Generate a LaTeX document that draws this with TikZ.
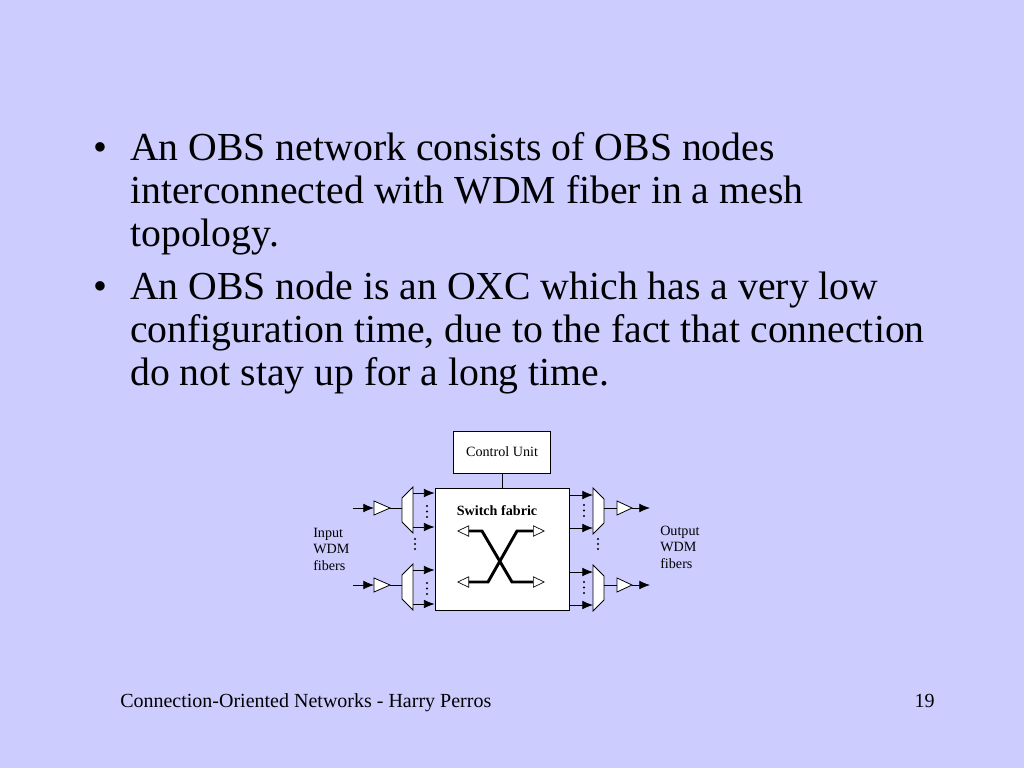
\documentclass[tikz,border=0pt]{standalone}
\usepackage{fontspec}
\setmainfont{Liberation Serif}
\usetikzlibrary{arrows.meta}
\tikzset{>={Latex[length=8pt,width=6.5pt]}}
\definecolor{slidebg}{RGB}{204,204,255}
\newcommand{\bodyfont}{\fontsize{29.8}{32.25}\selectfont}
\newcommand{\smallfont}{\fontsize{10.6}{12.4}\selectfont}
\tikzset{
  box/.style={draw, fill=white, line width=0.6pt, inner sep=0pt},
  dev/.style={draw, fill=white, line width=0.6pt},
  hollow/.tip={Triangle[open, length=9pt, width=8.5pt, line width=0.5pt]},
  xline/.style={line width=2.2pt, {hollow}-{hollow}}
}

\begin{document}
\begin{tikzpicture}[x=0.75pt, y=-0.75pt]
  \fill[slidebg] (0,0) rectangle (1024,768);
  \useasboundingbox (0,0) rectangle (1024,768);

  % bullets
  \node[anchor=base, inner sep=0, font=\bodyfont] (dot1) at (100,160) {•};
  \node[anchor=base west, inner sep=0, align=left, font=\bodyfont] (item1) at (130,246)
    {An OBS network consists of OBS nodes\\interconnected with WDM fiber in a mesh\\topology.};
  \node[anchor=base, inner sep=0, font=\bodyfont] (dot2) at (100,299) {•};
  \node[anchor=base west, inner sep=0, align=left, font=\bodyfont] (item2) at (130,385)
    {An OBS node is an OXC which has a very low\\configuration time, due to the fact that connection\\do not stay up for a long time.};

  % node diagram
  \node[box, minimum width=72.75pt, minimum height=31.5pt, font=\smallfont] (cu) at (502,452) {Control Unit};
  \node[box, minimum width=100.5pt, minimum height=91.5pt] (sf) at (502,549) {};
  \draw[line width=0.6pt] (cu.south) -- (sf.north);
  \node[font=\smallfont\bfseries, inner sep=0] (sflabel) at (497,511) {Switch fabric};
  \draw[xline] (457,531) -- (482,531) -- (512,582) -- (545,582);
  \draw[xline] (545,531) -- (517,531) -- (488,582) -- (457,582);

  \foreach \c in {510,587} {
    % input side
    \coordinate (inA) at (353,\c-2);
    \coordinate (inB) at (374,\c-2);
    \draw[->, line width=0.6pt] (inA) -- (inB);
    \draw[dev] (374,\c-9) -- (390,\c-2) -- (374,\c+5) -- cycle;
    \draw[line width=0.6pt] (390,\c-2) -- (402,\c-2);
    \draw[dev] (402,\c-12) -- (413,\c-23) -- (413,\c+23) -- (402,\c+12) -- cycle;
    \draw[->, line width=0.6pt] (413,\c-17) -- (sf.west |- 0,\c-17);
    \draw[->, line width=0.6pt] (413,\c+17) -- (sf.west |- 0,\c+17);
    \foreach \d in {-4,1.5,7} \fill (427,\c+\d) circle [radius=0.9pt];
    % output side
    \draw[->, line width=0.6pt] (sf.east |- 0,\c-15) -- (593,\c-15);
    \draw[->, line width=0.6pt] (sf.east |- 0,\c+18) -- (593,\c+18);
    \foreach \d in {-5,0.5,6} \fill (584,\c+\d) circle [radius=0.9pt];
    \draw[dev] (593,\c-22) -- (604,\c-11) -- (604,\c+13) -- (593,\c+24) -- cycle;
    \draw[line width=0.6pt] (604,\c-2) -- (617,\c-2);
    \draw[dev] (617,\c-9) -- (632,\c-2) -- (617,\c+5) -- cycle;
    \coordinate (outA) at (632,\c-2);
    \coordinate (outB) at (650,\c-2);
    \draw[->, line width=0.6pt] (outA) -- (outB);
  }
  \foreach \d in {539,544,549} {
    \fill (415,\d) circle [radius=0.9pt];
    \fill (598,\d) circle [radius=0.9pt];
  }

  \node[anchor=west, inner sep=0, align=left, font=\smallfont] (inlabel) at (313,549) {Input\\WDM\\fibers};
  \node[anchor=west, inner sep=0, align=left, font=\smallfont] (outlabel) at (660,547) {Output\\WDM\\fibers};

  % footer
  \node[anchor=base west, inner sep=0, font=\fontsize{15}{18}\selectfont] (foot) at (120,707)
    {Connection-Oriented Networks - Harry Perros};
  \node[anchor=base east, inner sep=0, font=\fontsize{15}{18}\selectfont] (page) at (935,707) {19};
\end{tikzpicture}
\end{document}
